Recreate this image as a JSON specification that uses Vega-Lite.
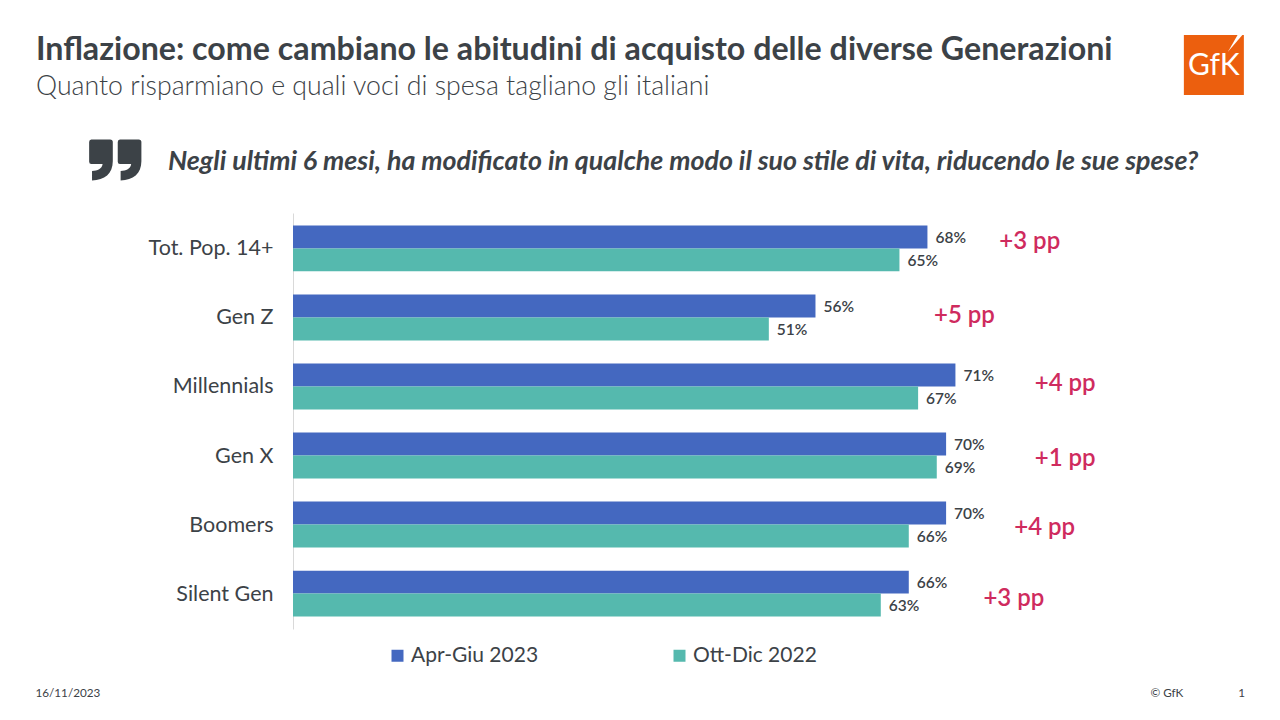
{
  "$schema": "https://vega.github.io/schema/vega-lite/v6.json",
  "autosize": "none",
  "width": 933,
  "height": 416,
  "padding": {"left": 293, "top": 213, "right": 54, "bottom": 91},
  "background": "white",
  "view": {"stroke": null},
  "title": {
    "text": "Inflazione: come cambiano le abitudini di acquisto delle diverse Generazioni",
    "subtitle": "Quanto risparmiano e quali voci di spesa tagliano gli italiani",
    "anchor": "start",
    "frame": "group",
    "dx": -257,
    "offset": -66.5,
    "font": "Lato",
    "fontSize": 32.2,
    "fontWeight": 700,
    "color": "#3c4247",
    "subtitleFont": "Lato",
    "subtitleFontSize": 26.7,
    "subtitleFontWeight": 300,
    "subtitleColor": "#3c4247",
    "subtitlePadding": 7
  },
  "datasets": {
    "barre": [
      {"Gruppo": "Tot. Pop. 14+", "Periodo": "Apr-Giu 2023", "Valore": 68, "Etichetta": "68%"},
      {"Gruppo": "Tot. Pop. 14+", "Periodo": "Ott-Dic 2022", "Valore": 65, "Etichetta": "65%"},
      {"Gruppo": "Gen Z", "Periodo": "Apr-Giu 2023", "Valore": 56, "Etichetta": "56%"},
      {"Gruppo": "Gen Z", "Periodo": "Ott-Dic 2022", "Valore": 51, "Etichetta": "51%"},
      {"Gruppo": "Millennials", "Periodo": "Apr-Giu 2023", "Valore": 71, "Etichetta": "71%"},
      {"Gruppo": "Millennials", "Periodo": "Ott-Dic 2022", "Valore": 67, "Etichetta": "67%"},
      {"Gruppo": "Gen X", "Periodo": "Apr-Giu 2023", "Valore": 70, "Etichetta": "70%"},
      {"Gruppo": "Gen X", "Periodo": "Ott-Dic 2022", "Valore": 69, "Etichetta": "69%"},
      {"Gruppo": "Boomers", "Periodo": "Apr-Giu 2023", "Valore": 70, "Etichetta": "70%"},
      {"Gruppo": "Boomers", "Periodo": "Ott-Dic 2022", "Valore": 66, "Etichetta": "66%"},
      {"Gruppo": "Silent Gen", "Periodo": "Apr-Giu 2023", "Valore": 66, "Etichetta": "66%"},
      {"Gruppo": "Silent Gen", "Periodo": "Ott-Dic 2022", "Valore": 63, "Etichetta": "63%"}
    ],
    "differenze": [
      {"Gruppo": "Tot. Pop. 14+", "Testo": "+3 pp", "Dove": 75.7, "Scarto": 17},
      {"Gruppo": "Gen Z", "Testo": "+5 pp", "Dove": 68.7, "Scarto": 22},
      {"Gruppo": "Millennials", "Testo": "+4 pp", "Dove": 79.5, "Scarto": 20},
      {"Gruppo": "Gen X", "Testo": "+1 pp", "Dove": 79.5, "Scarto": 26},
      {"Gruppo": "Boomers", "Testo": "+4 pp", "Dove": 77.3, "Scarto": 26},
      {"Gruppo": "Silent Gen", "Testo": "+3 pp", "Dove": 74, "Scarto": 28}
    ],
    "piede": [
      {"Gruppo": "Silent Gen", "Testo": "16/11/2023", "Dove": -27.6},
      {"Gruppo": "Silent Gen", "Testo": "© GfK", "Dove": 91.9},
      {"Gruppo": "Silent Gen", "Testo": "1", "Dove": 101.3}
    ],
    "cornice": [
      {"Gruppo": "Tot. Pop. 14+", "Testo": "Negli ultimi 6 mesi, ha modificato in qualche modo il suo stile di vita, riducendo le sue spese?", "Dove": -13.4, "Logo": "GfK", "Centro": 98.7, "Virgolette": -19.02}
    ]
  },
  "encoding": {
    "y": {
      "field": "Gruppo",
      "type": "nominal",
      "title": null,
      "scale": {
        "domain": ["Tot. Pop. 14+", "Gen Z", "Millennials", "Gen X", "Boomers", "Silent Gen"],
        "paddingInner": 0.335,
        "paddingOuter": 0.18
      },
      "axis": {
        "ticks": false,
        "grid": false,
        "domainColor": "#d9d9d9",
        "labelFont": "Lato",
        "labelFontSize": 21.5,
        "labelColor": "#3c4247",
        "labelPadding": 20,
        "labelOffset": 1
      }
    }
  },
  "layer": [
    {
      "data": {"name": "barre"},
      "mark": {"type": "bar"},
      "encoding": {
        "x": {"field": "Valore", "type": "quantitative", "scale": {"domain": [0, 100]}, "axis": null},
        "yOffset": {"field": "Periodo", "type": "nominal", "scale": {"domain": ["Apr-Giu 2023", "Ott-Dic 2022"]}},
        "color": {
          "field": "Periodo",
          "type": "nominal",
          "scale": {"domain": ["Apr-Giu 2023", "Ott-Dic 2022"], "range": ["#4468c0", "#55b9ae"]},
          "legend": {
            "title": null,
            "orient": "none",
            "legendX": 94,
            "legendY": 432,
            "direction": "horizontal",
            "columns": 2,
            "columnPadding": 130,
            "symbolType": "square",
            "symbolSize": 144,
            "symbolStrokeWidth": 0,
            "labelFont": "Lato",
            "labelFontSize": 21,
            "labelColor": "#3c4247",
            "labelOffset": 3
          }
        }
      }
    },
    {
      "data": {"name": "barre"},
      "mark": {"type": "text", "align": "left", "dx": 8, "dy": 1, "font": "Lato", "fontSize": 15.5, "fontWeight": 600, "color": "#3c4247"},
      "encoding": {
        "x": {"field": "Valore", "type": "quantitative"},
        "yOffset": {"field": "Periodo", "type": "nominal", "scale": {"domain": ["Apr-Giu 2023", "Ott-Dic 2022"]}},
        "text": {"field": "Etichetta"}
      }
    },
    {
      "data": {"name": "differenze"},
      "mark": {"type": "text", "align": "left", "font": "Lato", "fontSize": 24, "fontWeight": 600, "color": "#cf2b5e"},
      "encoding": {
        "x": {"field": "Dove", "type": "quantitative"},
        "yOffset": {"field": "Scarto", "type": "quantitative", "scale": null},
        "text": {"field": "Testo"}
      }
    },
    {
      "data": {"name": "piede"},
      "mark": {"type": "text", "align": "left", "dy": 99, "font": "Lato", "fontSize": 11.7, "color": "#3c4247"},
      "encoding": {
        "x": {"field": "Dove", "type": "quantitative"},
        "text": {"field": "Testo"}
      }
    },
    {
      "data": {"name": "cornice"},
      "mark": {"type": "text", "align": "left", "dy": -86, "font": "Lato", "fontSize": 26.8, "fontWeight": 700, "fontStyle": "italic", "color": "#3c4247"},
      "encoding": {
        "x": {"field": "Dove", "type": "quantitative"},
        "text": {"field": "Testo"}
      }
    },
    {
      "data": {"name": "cornice"},
      "mark": {
        "type": "point",
        "filled": true,
        "opacity": 1,
        "size": 3025,
        "color": "#3c4247",
        "shape": "M-0.88 -0.745 L-0.2 -0.745 Q-0.1 -0.745 -0.1 -0.65 L-0.1 0.05 C-0.1 0.5 -0.4 0.745 -0.855 0.745 L-0.855 0.4 C-0.65 0.4 -0.5 0.33 -0.47 0.15 L-0.88 0.15 Q-0.96 0.15 -0.96 0.07 L-0.96 -0.65 Q-0.96 -0.745 -0.88 -0.745 Z M0.16 -0.745 L0.84 -0.745 Q0.94 -0.745 0.94 -0.65 L0.94 0.05 C0.94 0.5 0.64 0.745 0.185 0.745 L0.185 0.4 C0.39 0.4 0.54 0.33 0.57 0.15 L0.16 0.15 Q0.08 0.15 0.08 0.07 L0.08 -0.65 Q0.08 -0.745 0.16 -0.745 Z"
      },
      "encoding": {
        "x": {"field": "Virgolette", "type": "quantitative"},
        "yOffset": {"datum": -65.5, "scale": null}
      }
    },
    {
      "data": {"name": "cornice"},
      "mark": {"type": "point", "filled": true, "opacity": 1, "size": 3600, "shape": "square", "color": "#ec5f0e"},
      "encoding": {
        "x": {"field": "Centro", "type": "quantitative"},
        "yOffset": {"datum": -160.5, "scale": null}
      }
    },
    {
      "data": {"name": "cornice"},
      "mark": {
        "type": "point",
        "filled": true,
        "opacity": 1,
        "size": 3600,
        "color": "white",
        "shape": "M0.79 -1 L0.95 -1 L0.47 -0.44 Z"
      },
      "encoding": {
        "x": {"field": "Centro", "type": "quantitative"},
        "yOffset": {"datum": -160.5, "scale": null}
      }
    },
    {
      "data": {"name": "cornice"},
      "mark": {"type": "text", "dy": -182, "font": "Lato", "fontSize": 30, "fontWeight": 400, "color": "white"},
      "encoding": {
        "x": {"field": "Centro", "type": "quantitative"},
        "text": {"field": "Logo"}
      }
    }
  ]
}
